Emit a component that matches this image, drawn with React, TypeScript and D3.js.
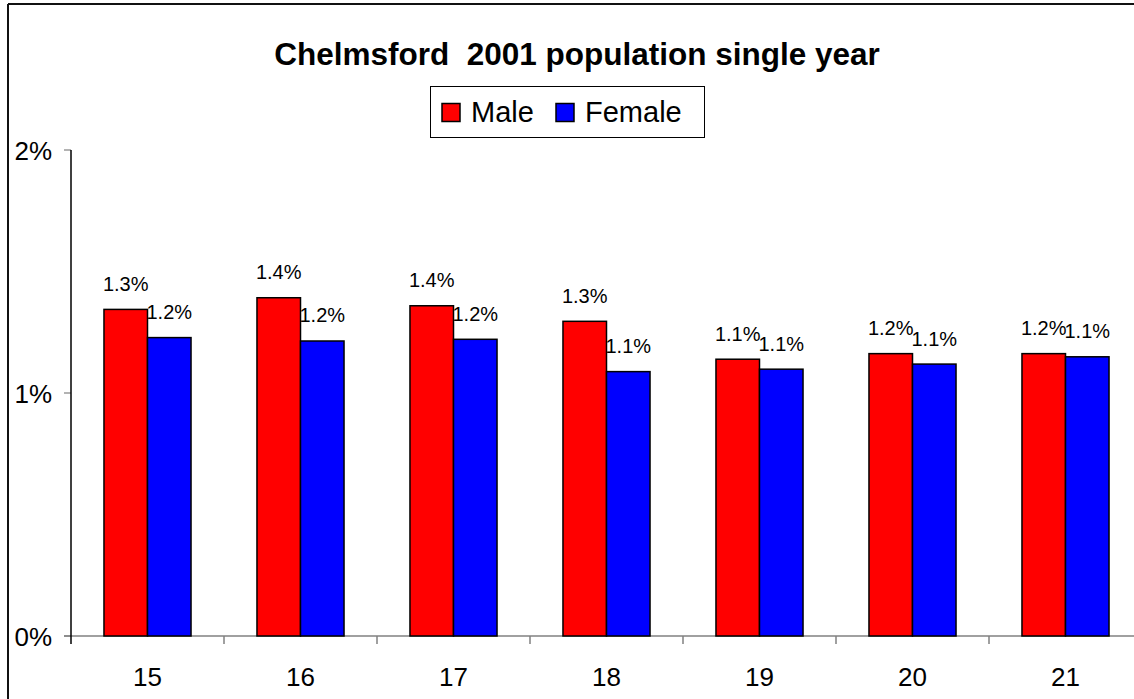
import React from "react";
import * as d3 from "d3";

const categories = ["15", "16", "17", "18", "19", "20", "21"];
const malePct = [1.344, 1.392, 1.359, 1.295, 1.139, 1.162, 1.162];
const femalePct = [1.228, 1.214, 1.221, 1.088, 1.098, 1.119, 1.149];
const seriesNames = ["Male", "Female"];
const seriesColors = ["#ff0000", "#0000ff"];
const yTicks = [0, 1, 2];
const title = "Chelmsford  2001 population single year";

const W = 1134;
const H = 699;
const left = 71;
const plotRight = 1142;
const top = 150;
const bottom = 636;
const FONT = "Arial, 'Liberation Sans', sans-serif";

export default function App() {
  const x = d3.scaleBand<string>().domain(categories).range([left, plotRight]).paddingInner(0.431).paddingOuter(0.2155);
  const xs = d3.scaleBand<string>().domain(seriesNames).range([0, x.bandwidth()]).padding(0);
  const y = d3.scaleLinear().domain([0, 2]).range([bottom, top]);
  const step = x.step();
  const fmt = (v: number) => d3.format(".1f")(v) + "%";
  const series = [malePct, femalePct];

  return (
    <svg width={W} height={H} style={{ position: "absolute", left: 0, top: 0, background: "#fff" }} fontFamily={FONT}>
      <rect x={0} y={0} width={W} height={H} fill="#fff" />
      {/* outer border */}
      <line x1={8} y1={4} x2={W} y2={4} stroke="#111" strokeWidth={2} />
      <line x1={8} y1={4} x2={8} y2={H} stroke="#111" strokeWidth={2} />

      {/* title */}
      <text x={577} y={65} textAnchor="middle" fontSize={31.5} fontWeight="bold" fill="#000" style={{ whiteSpace: "pre" }}>
        {title}
      </text>

      {/* legend */}
      <rect x={430.5} y={86.5} width={274} height={51} fill="#fff" stroke="#000" strokeWidth={1} />
      {seriesNames.map((s, i) => {
        const sx = i === 0 ? 442 : 556;
        const tx = i === 0 ? 471 : 585;
        return (
          <g key={s}>
            <rect x={sx} y={103.5} width={18} height={18} fill={seriesColors[i]} stroke="#000" strokeWidth={1.5} />
            <text x={tx} y={122} fontSize={29} fill="#000">{s}</text>
          </g>
        );
      })}

      {/* y ticks and labels */}
      {yTicks.map((t) => (
        <g key={t}>
          <line x1={64} x2={left} y1={y(t)} y2={y(t)} stroke="#808080" strokeWidth={1.2} />
          <text x={52} y={y(t) + 10} textAnchor="end" fontSize={26} fill="#000">{t + "%"}</text>
        </g>
      ))}

      {/* x axis */}
      <line x1={64} x2={plotRight} y1={bottom} y2={bottom} stroke="#808080" strokeWidth={1.5} />
      {categories.map((c, i) => (
        <line key={"t" + c} x1={left + step * (i + 1)} x2={left + step * (i + 1)} y1={bottom} y2={bottom + 8} stroke="#808080" strokeWidth={1.5} />
      ))}
      {categories.map((c) => (
        <text key={"l" + c} x={(x(c) as number) + x.bandwidth() / 2} y={686} textAnchor="middle" fontSize={26} fill="#000">{c}</text>
      ))}

      {/* bars */}
      {categories.map((c, i) => (
        <g key={"b" + c}>
          {seriesNames.map((s, j) => {
            const v = series[j][i];
            const bx = (x(c) as number) + (xs(s) as number);
            return (
              <rect key={s} x={bx} y={y(v)} width={xs.bandwidth()} height={bottom - y(v)} fill={seriesColors[j]} stroke="#000" strokeWidth={1.5} />
            );
          })}
        </g>
      ))}

      {/* y axis line */}
      <line x1={left} x2={left} y1={top} y2={bottom + 8} stroke="#000" strokeWidth={1.5} />

      {/* data labels */}
      {categories.map((c, i) => (
        <g key={"d" + c}>
          {seriesNames.map((s, j) => {
            const v = series[j][i];
            const cx = (x(c) as number) + (xs(s) as number) + xs.bandwidth() / 2;
            return (
              <text key={s} x={cx} y={y(v) - 18.5} textAnchor="middle" fontSize={20} fill="#000">{fmt(v)}</text>
            );
          })}
        </g>
      ))}
    </svg>
  );
}
